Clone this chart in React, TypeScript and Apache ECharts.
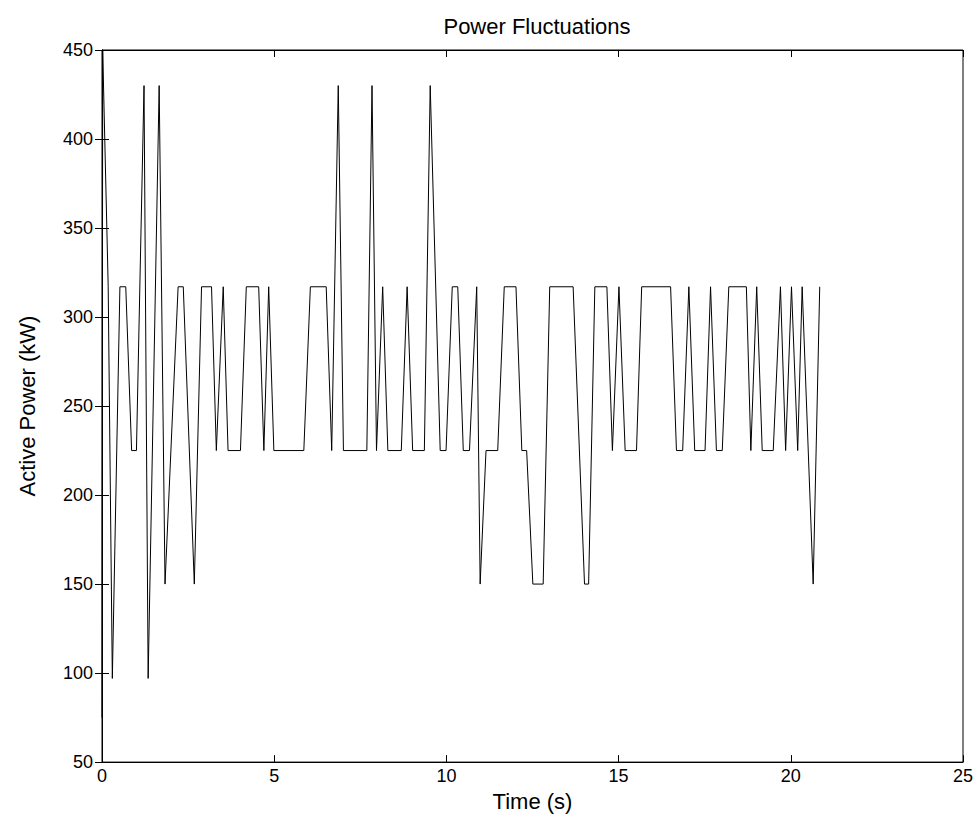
import React, { useEffect, useRef } from "react";
import * as echarts from "echarts";

// Time stamps (s) of the trace's vertices
const timeS: number[] = [
  0, 0.02, 0.18, 0.30, 0.52, 0.69, 0.86, 1.00, 1.22, 1.34,
  1.66, 1.83, 2.21, 2.36, 2.68, 2.89, 3.18, 3.32, 3.52, 3.66,
  4.02, 4.19, 4.55, 4.70, 4.84, 4.99, 5.86, 6.05, 6.51, 6.67,
  6.86, 7.01, 7.69, 7.84, 7.97, 8.15, 8.30, 8.69, 8.86, 9.02,
  9.36, 9.53, 9.82, 9.99, 10.17, 10.33, 10.49, 10.67, 10.88, 10.98,
  11.15, 11.49, 11.68, 12.02, 12.19, 12.33, 12.51, 12.81, 13.0, 13.68,
  14.01, 14.13, 14.31, 14.66, 14.82, 15.01, 15.19, 15.52, 15.67, 16.51,
  16.68, 16.86, 17.04, 17.21, 17.51, 17.67, 17.84, 18.01, 18.20, 18.71,
  18.84, 19.01, 19.17, 19.49, 19.70, 19.85, 20.02, 20.20, 20.33, 20.65,
  20.84,
];

// Active power (kW) at each time stamp
const powerKW: number[] = [
  75, 450, 317, 97, 317, 317, 225, 225, 430, 97,
  430, 150, 317, 317, 150, 317, 317, 225, 317, 225,
  225, 317, 317, 225, 317, 225, 225, 317, 317, 225,
  430, 225, 225, 430, 225, 317, 225, 225, 317, 225,
  225, 430, 225, 225, 317, 317, 225, 225, 317, 150,
  225, 225, 317, 317, 225, 225, 150, 150, 317, 317,
  150, 150, 317, 317, 225, 317, 225, 225, 317, 317,
  225, 225, 317, 225, 225, 317, 225, 225, 317, 317,
  225, 317, 225, 225, 317, 225, 317, 225, 317, 150,
  317,
];

const titleText = "Power Fluctuations";
const xName = "Time (s)";
const yName = "Active Power (kW)";
const xRange = { min: 0, max: 25, interval: 5 };
const yRange = { min: 50, max: 450, interval: 50 };

const FONT = "'Liberation Sans', Arial, sans-serif";

export default function App() {
  const ref = useRef<HTMLDivElement>(null);

  useEffect(() => {
    if (!ref.current) return;
    const chart = echarts.init(ref.current, undefined, { renderer: "svg" });
    const data = timeS.map((t, i) => [t, powerKW[i]]);
    const lineStyle = { color: "#000", width: 1 };
    const tick = { show: true, inside: true, length: 7, lineStyle: { color: "#000" } };

    chart.setOption({
      animation: false,
      backgroundColor: "#fff",
      title: {
        text: titleText,
        left: 532,
        top: 10,
        textAlign: "center",
        textStyle: { fontFamily: FONT, fontSize: 22, fontWeight: "normal", color: "#000" },
      },
      grid: { left: 102, right: 14, top: 50, bottom: 47, show: true, borderColor: "#000", borderWidth: 1 },
      xAxis: [
        {
          type: "value",
          ...xRange,
          name: xName,
          nameLocation: "middle",
          nameGap: 23,
          nameTextStyle: { fontFamily: FONT, fontSize: 22, color: "#000" },
          axisLine: { show: true, lineStyle },
          axisTick: tick,
          axisLabel: { fontFamily: FONT, fontSize: 18, color: "#000", margin: 5 },
          splitLine: { show: false },
        },
        {
          type: "value",
          position: "top",
          ...xRange,
          axisLine: { show: true, lineStyle },
          axisTick: tick,
          axisLabel: { show: false },
          splitLine: { show: false },
        },
      ],
      yAxis: [
        {
          type: "value",
          ...yRange,
          name: yName,
          nameLocation: "middle",
          nameGap: 64,
          nameTextStyle: { fontFamily: FONT, fontSize: 22, color: "#000" },
          axisLine: { show: true, lineStyle },
          axisTick: tick,
          axisLabel: { fontFamily: FONT, fontSize: 18, color: "#000", margin: 9 },
          splitLine: { show: false },
        },
        {
          type: "value",
          position: "right",
          ...yRange,
          axisLine: { show: true, lineStyle },
          axisTick: tick,
          axisLabel: { show: false },
          splitLine: { show: false },
        },
      ],
      series: [
        {
          type: "line",
          data,
          xAxisIndex: 0,
          yAxisIndex: 0,
          showSymbol: false,
          symbol: "none",
          lineStyle: { color: "#000", width: 1 },
          clip: true,
        },
      ],
    });
    return () => chart.dispose();
  }, []);

  return (
    <div
      ref={ref}
      style={{ position: "fixed", left: 0, top: 0, width: 977, height: 817, background: "#fff" }}
    />
  );
}
